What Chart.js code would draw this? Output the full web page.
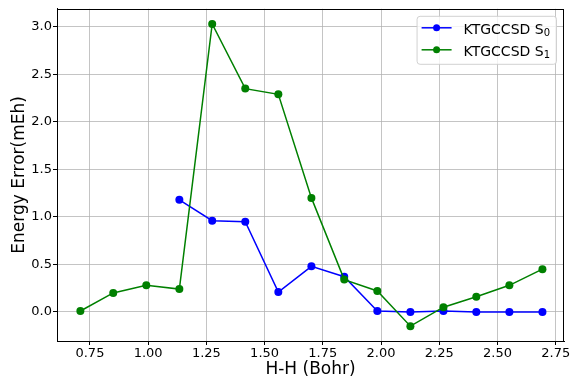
<!DOCTYPE html>
<html>
<head>
<meta charset="utf-8">
<script src="https://cdn.jsdelivr.net/npm/chart.js@4/dist/chart.umd.min.js"></script>
<style>
  html, body { margin: 0; padding: 0; background: #ffffff; }
  #wrap { width: 573px; height: 379px; }
</style>
</head>
<body>
<div id="wrap"><canvas id="c" width="573" height="379"></canvas></div>
<script>
// H-H separation (Bohr)
const bondLengths = [0.709, 0.850, 0.992, 1.134, 1.275, 1.417, 1.559, 1.701, 1.842, 1.984, 2.126, 2.268, 2.409, 2.551, 2.693];
// Energy error of the ground state (mEh); not computed at the shortest distances
const s0Errors = [null, null, null, 1.18, 0.96, 0.95, 0.21, 0.48, 0.37, 0.01, 0.00, 0.01, 0.00, 0.00, 0.00];
// Energy error of the first excited state (mEh)
const s1Errors = [0.01, 0.20, 0.28, 0.24, 3.03, 2.35, 2.29, 1.20, 0.34, 0.22, -0.15, 0.05, 0.16, 0.28, 0.45];

// Series names: method + state symbol, with the state index set as a subscript
const seriesMethod = ['KTGCCSD S', 'KTGCCSD S'];
const seriesIndex = ['0', '1'];
const xTicks = [0.75, 1.00, 1.25, 1.50, 1.75, 2.00, 2.25, 2.50, 2.75];
const yTicks = [0.0, 0.5, 1.0, 1.5, 2.0, 2.5, 3.0];

const FONT = 'DejaVu Sans';

function toPoints(xs, ys) {
  const pts = [];
  xs.forEach((x, i) => { if (ys[i] !== null) pts.push({ x: x, y: ys[i] }); });
  return pts;
}

// Frame on all four sides of the plotting area
const framePlugin = {
  id: 'frame',
  afterDatasetsDraw(chart) {
    const { ctx, chartArea: a } = chart;
    ctx.save();
    ctx.strokeStyle = '#000000';
    ctx.lineWidth = 1;
    ctx.strokeRect(Math.round(a.left) + 0.5, Math.round(a.top) + 0.5,
                   Math.round(a.right - a.left) - 1, Math.round(a.bottom - a.top));
    ctx.restore();
  }
};

// Legend box in the upper-right corner with line + marker handles
const boxLegend = {
  id: 'boxLegend',
  afterDraw(chart) {
    const { ctx, chartArea: a } = chart;
    const ds = chart.data.datasets;
    const mainFont = '14px "' + FONT + '"';
    const subFont = '10px "' + FONT + '"';
    ctx.save();
    let tw = 0;
    ds.forEach((d, i) => {
      ctx.font = mainFont;
      let w = ctx.measureText(seriesMethod[i]).width;
      ctx.font = subFont;
      w += ctx.measureText(seriesIndex[i]).width;
      tw = Math.max(tw, w);
    });
    const padL = 5, handle = 30, gap = 12, padR = 6, rowH = 22, padV = 12;
    const w = padL + handle + gap + tw + padR;
    const h = rowH * ds.length + 4;
    const x0 = a.right - 8 - w, y0 = a.top + 7;
    ctx.beginPath();
    ctx.roundRect(x0 + 0.5, y0 + 0.5, w, h, 3);
    ctx.fillStyle = 'rgba(255,255,255,0.8)';
    ctx.fill();
    ctx.strokeStyle = 'rgba(204,204,204,0.9)';
    ctx.lineWidth = 1;
    ctx.stroke();
    ds.forEach((d, i) => {
      const cy = y0 + padV + i * rowH;
      const hx = x0 + padL;
      ctx.strokeStyle = d.borderColor;
      ctx.lineWidth = 1.5;
      ctx.beginPath();
      ctx.moveTo(hx, cy);
      ctx.lineTo(hx + handle, cy);
      ctx.stroke();
      ctx.fillStyle = d.borderColor;
      ctx.beginPath();
      ctx.arc(hx + handle / 2, cy, 3.5, 0, Math.PI * 2);
      ctx.fill();
      ctx.fillStyle = '#000000';
      ctx.textBaseline = 'alphabetic';
      ctx.textAlign = 'left';
      const tx = hx + handle + gap, base = cy + 6;
      ctx.font = mainFont;
      ctx.fillText(seriesMethod[i], tx, base);
      const mw = ctx.measureText(seriesMethod[i]).width;
      ctx.font = subFont;
      ctx.fillText(seriesIndex[i], tx + mw, base + 2.5);
    });
    ctx.restore();
  }
};

new Chart(document.getElementById('c'), {
  type: 'scatter',
  data: {
    datasets: [
      {
        label: seriesMethod[0] + seriesIndex[0],
        data: toPoints(bondLengths, s0Errors),
        showLine: true,
        borderColor: '#0000ff',
        backgroundColor: '#0000ff',
        borderWidth: 1.5,
        pointRadius: 4,
        pointBorderWidth: 0,
        order: 1
      },
      {
        label: seriesMethod[1] + seriesIndex[1],
        data: toPoints(bondLengths, s1Errors),
        showLine: true,
        borderColor: '#008000',
        backgroundColor: '#008000',
        borderWidth: 1.5,
        pointRadius: 4,
        pointBorderWidth: 0,
        order: 0
      }
    ]
  },
  options: {
    responsive: false,
    animation: false,
    events: [],
    layout: { padding: { top: 6, right: 9, left: 0, bottom: 0 } },
    plugins: { legend: { display: false }, tooltip: { enabled: false } },
    scales: {
      x: {
        type: 'linear',
        min: 0.6086,
        max: 2.7856,
        afterBuildTicks(scale) { scale.ticks = xTicks.map(v => ({ value: v })); },
        afterFit(scale) { scale.height = 38; },
        ticks: {
          autoSkip: false,
          maxRotation: 0,
          padding: 1,
          color: '#000000',
          font: { family: FONT, size: 13 },
          callback: v => Number(v).toFixed(2)
        },
        grid: {
          color: 'rgba(176,176,176,0.75)',
          lineWidth: 1,
          tickLength: 4,
          tickColor: '#000000'
        },
        border: { color: '#000000', width: 1 },
        title: {
          display: true,
          text: 'H-H (Bohr)',
          color: '#000000',
          font: { family: FONT, size: 17 },
          padding: { top: 0, bottom: -1 }
        }
      },
      y: {
        type: 'linear',
        min: -0.306,
        max: 3.19,
        afterBuildTicks(scale) { scale.ticks = yTicks.map(v => ({ value: v })); },
        afterFit(scale) { scale.width = 57; },
        ticks: {
          padding: 1,
          color: '#000000',
          font: { family: FONT, size: 13 },
          callback: v => Number(v).toFixed(1)
        },
        grid: {
          color: 'rgba(176,176,176,0.75)',
          lineWidth: 1,
          tickLength: 4,
          tickColor: '#000000'
        },
        border: { color: '#000000', width: 1 },
        title: {
          display: true,
          text: 'Energy Error(mEh)',
          color: '#000000',
          font: { family: FONT, size: 17 },
          padding: { top: 9, bottom: 0 }
        }
      }
    }
  },
  plugins: [framePlugin, boxLegend]
});
</script>
</body>
</html>
